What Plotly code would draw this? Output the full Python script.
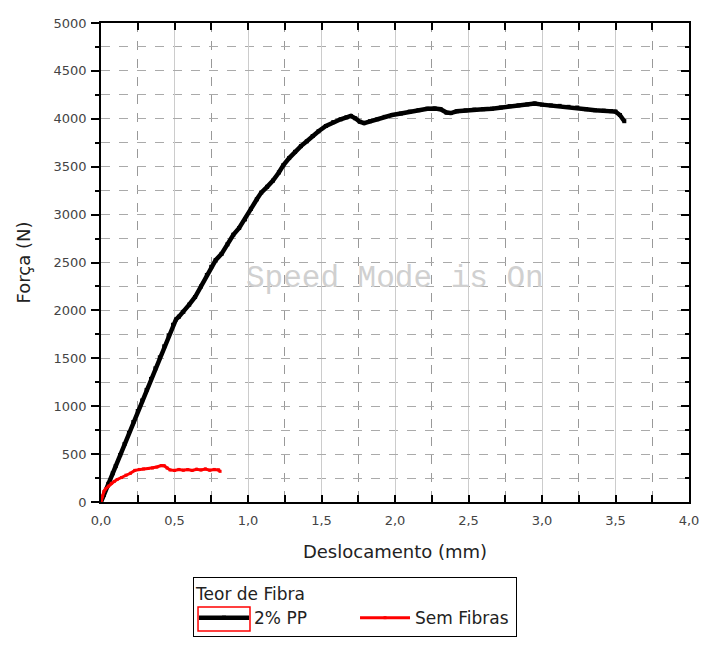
import plotly.graph_objects as go

# ---- data ----
pp_x = [0.00, 0.02, 0.05, 0.08, 0.10, 0.13, 0.16, 0.19, 0.22, 0.25, 0.28, 0.31, 0.34, 0.37, 0.40,
        0.43, 0.46, 0.49, 0.51, 0.53, 0.56, 0.60, 0.64, 0.68, 0.72, 0.75, 0.78, 0.82, 0.86, 0.90,
        0.94, 0.98, 1.02, 1.06, 1.09, 1.13, 1.17, 1.21, 1.24, 1.28, 1.32, 1.36, 1.40, 1.44, 1.48,
        1.53, 1.58, 1.63, 1.67, 1.70, 1.73, 1.76, 1.79, 1.83, 1.88, 1.93, 1.98, 2.04, 2.10, 2.16,
        2.22, 2.27, 2.31, 2.35, 2.38, 2.42, 2.48, 2.54, 2.60, 2.66, 2.72, 2.78, 2.84, 2.90, 2.95,
        3.00, 3.06, 3.12, 3.18, 3.24, 3.30, 3.36, 3.42, 3.47, 3.50, 3.53, 3.56]
pp_y = [0, 75, 190, 300, 375, 490, 605, 720, 835, 950, 1060, 1170, 1285, 1395, 1510,
        1625, 1740, 1850, 1905, 1935, 1985, 2060, 2140, 2250, 2370, 2455, 2525, 2590, 2690, 2790,
        2860, 2950, 3060, 3160, 3230, 3290, 3355, 3440, 3515, 3590, 3655, 3715, 3765, 3820, 3870,
        3925, 3965, 3995, 4015, 4030, 4005, 3970, 3955, 3975, 3995, 4020, 4040, 4055, 4075, 4090,
        4105, 4108, 4100, 4065, 4060, 4078, 4088, 4096, 4100, 4106, 4118, 4132, 4140, 4150, 4160,
        4148, 4140, 4135, 4125, 4118, 4100, 4090, 4085, 4080, 4075, 4040, 3975]

ns_x = [0.00, 0.01, 0.02, 0.03, 0.05, 0.07, 0.09, 0.11, 0.14, 0.17, 0.20, 0.23, 0.26, 0.29, 0.32,
        0.35, 0.38, 0.41, 0.43, 0.45, 0.47, 0.50, 0.53, 0.56, 0.59, 0.62, 0.65, 0.68, 0.71, 0.74,
        0.77, 0.80, 0.81]
ns_y = [0, 60, 110, 135, 165, 195, 215, 235, 255, 280, 300, 330, 340, 345, 350,
        355, 365, 380, 378, 355, 335, 330, 340, 332, 338, 330, 342, 335, 345, 332,
        340, 335, 320]

x_tickvals = [0, 0.5, 1.0, 1.5, 2.0, 2.5, 3.0, 3.5, 4.0]
x_ticktext = ["0,0", "0,5", "1,0", "1,5", "2,0", "2,5", "3,0", "3,5", "4,0"]
y_tickvals = [0, 500, 1000, 1500, 2000, 2500, 3000, 3500, 4000, 4500, 5000]

series_names = ["2% PP", "Sem Fibras"]
series_colors = ["#000000", "#ff0000"]

FONT = "DejaVu Sans"

fig = go.Figure()
fig.add_trace(go.Scatter(x=pp_x, y=pp_y, mode="lines+markers", name=series_names[0],
                         line=dict(color=series_colors[0], width=4.5),
                         marker=dict(color=series_colors[0], size=4, symbol="square")))
fig.add_trace(go.Scatter(x=ns_x, y=ns_y, mode="lines+markers", name=series_names[1],
                         line=dict(color=series_colors[1], width=3),
                         marker=dict(color=series_colors[1], size=3, symbol="square")))

fig.update_layout(
    width=701, height=646,
    margin=dict(l=101, r=12, t=23, b=144, autoexpand=False),
    paper_bgcolor="white", plot_bgcolor="white",
    font=dict(family=FONT, color="#444"),
    showlegend=True,
    legend=dict(
        orientation="h", x=0.1565, y=-0.1566, xanchor="left", yanchor="top",
        bordercolor="#000", borderwidth=1, bgcolor="rgba(0,0,0,0)",
        title=dict(text="Teor de Fibra", side="top", font=dict(size=17, color="#222", family=FONT)),
        font=dict(size=17, color="#222", family=FONT),
        itemwidth=50, entrywidth=96, traceorder="normal",
    ),
    xaxis=dict(
        range=[0, 4.0], tickvals=x_tickvals, ticktext=x_ticktext, automargin=False,
        ticks="inside", ticklen=7, tickwidth=1.5, tickcolor="#000",
        showline=True, linecolor="#000", linewidth=1.5, mirror="allticks",
        showgrid=True, gridcolor="#cccccc", gridwidth=1,
        minor=dict(dtick=0.25, tick0=0, ticks="inside", ticklen=7, tickcolor="#000",
                   showgrid=True, gridcolor="#999999", griddash="dash", gridwidth=1),
        tickfont=dict(size=13, color="#444", family=FONT), ticklabelstandoff=6,
        title=dict(text="Deslocamento (mm)", font=dict(size=18, color="#222", family=FONT), standoff=18),
        zeroline=False,
    ),
    yaxis=dict(
        range=[0, 5000], tickvals=y_tickvals, automargin=False,
        ticks="outside", ticklen=8, tickwidth=1.5, tickcolor="#000",
        showline=True, linecolor="#000", linewidth=1.5, mirror=True,
        showgrid=True, gridcolor="#aaaaaa", griddash="dash", gridwidth=1,
        minor=dict(dtick=250, tick0=0, ticks="outside", ticklen=4, tickcolor="#000",
                   showgrid=True, gridcolor="#aaaaaa", griddash="dash", gridwidth=1),
        tickfont=dict(size=13, color="#444", family=FONT), ticklabelstandoff=2,
        title=dict(text="Força (N)", font=dict(size=18, color="#222", family=FONT), standoff=18),
        zeroline=False,
    ),
    yaxis2=dict(
        range=[0, 5000], overlaying="y", side="right", tickvals=y_tickvals, automargin=False,
        ticks="inside", ticklen=8, tickwidth=1.5, tickcolor="#000",
        showticklabels=False, showgrid=False, zeroline=False, showline=False,
        minor=dict(dtick=250, tick0=0, ticks="inside", ticklen=4, tickcolor="#000", showgrid=False),
    ),
)

# invisible helper trace so the right-hand tick axis is drawn
fig.add_trace(go.Scatter(x=[0], y=[0], yaxis="y2", mode="markers", marker=dict(opacity=0),
                         showlegend=False, hoverinfo="skip"))

# watermark text from the original screenshot
fig.add_annotation(x=2.0, y=2330, xref="x", yref="y", text="Speed Mode is On",
                   showarrow=False, font=dict(family="Liberation Mono", size=31, color="#d0d0d0"))

# red selection box around the first legend symbol (as in the reference)
fig.add_shape(type="rect", xref="paper", yref="paper",
              x0=0.1650, x1=0.2534, y0=-0.2693, y1=-0.2192,
              line=dict(color="#ff0000", width=1.5))

fig.write_html("out.html")
